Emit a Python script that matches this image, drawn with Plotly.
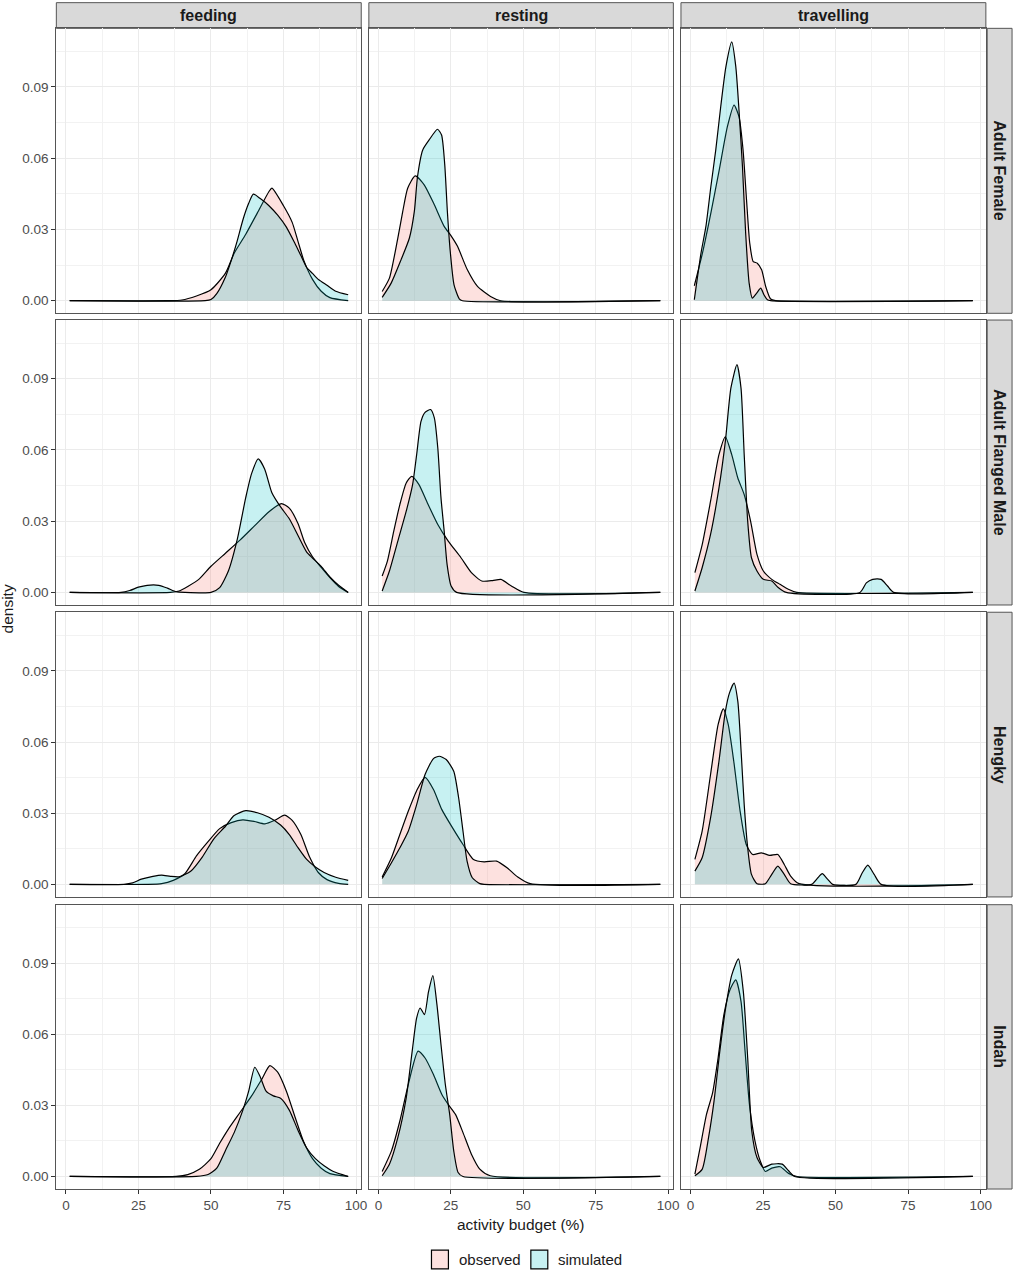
import plotly.graph_objects as go
from plotly.subplots import make_subplots

activities = ['feeding', 'resting', 'travelling']
individuals = ['Adult Female', 'Adult Flanged Male', 'Hengky', 'Indah']
groups = ['observed', 'simulated']
x_ticks = [0, 25, 50, 75, 100]
y_ticks = [0.00, 0.03, 0.06, 0.09]

# density curves (x = activity budget %, y = density)

# --- Adult Female ---
female_feeding_obs_x = [1.3, 35, 40, 45, 50, 55, 58, 62, 66, 70, 71, 75, 78, 80, 82, 85, 88, 91, 97.3]
female_feeding_obs_y = [0, 0, 0.0003, 0.002, 0.0046, 0.0116, 0.020, 0.028, 0.037, 0.046, 0.0474, 0.040, 0.033, 0.025, 0.017, 0.009, 0.004, 0.0013, 0]
female_feeding_sim_x = [1.3, 48, 50, 52, 55, 57, 59, 61, 63, 64.6, 67, 70, 73, 76, 79, 81, 83, 85, 87, 90, 93, 97.3]
female_feeding_sim_y = [0, 0, 0.0005, 0.003, 0.010, 0.017, 0.025, 0.034, 0.041, 0.0449, 0.043, 0.040, 0.036, 0.031, 0.024, 0.019, 0.014, 0.0115, 0.009, 0.0065, 0.004, 0.0025]

female_resting_obs_x = [1.3, 3.8, 6.7, 8.4, 10.1, 12.7, 15.8, 19.3, 22.7, 25.2, 27.3, 30.7, 34.2, 38.7, 42.2, 97.3]
female_resting_obs_y = [0.0039, 0.0095, 0.0264, 0.0376, 0.0474, 0.0526, 0.0488, 0.0404, 0.0313, 0.0271, 0.0229, 0.0130, 0.0060, 0.0018, 0, 0]
female_resting_sim_x = [1.3, 4.4, 7.8, 10.7, 12.4, 13.5, 15.3, 17.5, 20.4, 21.8, 22.9, 23.8, 24.8, 26.1, 27.9, 29, 97.3]
female_resting_sim_y = [0.0014, 0.0074, 0.0172, 0.0264, 0.0376, 0.0523, 0.0635, 0.0677, 0.0722, 0.0698, 0.0572, 0.0376, 0.0207, 0.0067, 0.0008, 0, 0]

female_travelling_obs_x = [1.3, 4.1, 7.0, 9.9, 12.7, 15.0, 16.7, 18.1, 19.3, 20.4, 21.6, 23.0, 24.5, 25.9, 27.6, 29.3, 97.3]
female_travelling_obs_y = [0.0063, 0.020, 0.0369, 0.0551, 0.0733, 0.0824, 0.0775, 0.0635, 0.0425, 0.0243, 0.0165, 0.0158, 0.0130, 0.0060, 0.0007, 0, 0]
female_travelling_sim_x = [1.3, 3.6, 5.3, 7.0, 8.7, 10.4, 12.2, 14.2, 15.6, 16.7, 17.9, 19.0, 20.2, 21.3, 22.8, 24.2, 25.3, 26.5, 27.6, 97.3]
female_travelling_sim_y = [0.0004, 0.020, 0.0313, 0.048, 0.0635, 0.0817, 0.0986, 0.109, 0.0986, 0.0803, 0.0565, 0.0285, 0.0074, 0.0011, 0.0032, 0.0053, 0.0025, 0.0004, 0, 0]

# --- Adult Flanged Male ---
male_feeding_obs_x = [1.3, 36, 39, 42, 46, 50, 55, 60, 65, 70, 74.3, 77, 80, 82.3, 85, 88, 91, 94, 97.3]
male_feeding_obs_y = [0, 0, 0.0006, 0.0025, 0.0057, 0.011, 0.0165, 0.022, 0.028, 0.034, 0.0374, 0.0355, 0.029, 0.021, 0.015, 0.0105, 0.0062, 0.0025, 0]
male_feeding_sim_x = [1.3, 19, 22, 25, 28, 32, 35, 38, 41, 50, 53, 56, 59, 62, 64, 66.3, 68.5, 71, 74, 77, 80, 83, 85, 88, 91, 94, 97.3]
male_feeding_sim_y = [0, 0, 0.0008, 0.0022, 0.003, 0.003, 0.0018, 0.0003, 0, 0, 0.002, 0.009, 0.022, 0.040, 0.050, 0.0562, 0.052, 0.042, 0.036, 0.031, 0.024, 0.017, 0.0145, 0.011, 0.0065, 0.003, 0]

male_resting_obs_x = [1.3, 3.1, 5.3, 7.4, 9.6, 11.5, 14.0, 16.9, 20.5, 24.1, 28.5, 32.1, 35.7, 39.4, 42.3, 45.9, 50.2, 97.3]
male_resting_obs_y = [0.0069, 0.0132, 0.0258, 0.037, 0.0461, 0.0489, 0.0454, 0.0377, 0.0286, 0.0216, 0.0146, 0.0083, 0.0048, 0.005, 0.0055, 0.0027, 0, 0]
male_resting_sim_x = [1.3, 3.8, 6.7, 9.6, 11.8, 13.2, 14.7, 16.1, 18.0, 19.3, 20.5, 21.6, 22.7, 23.7, 25.1, 27.0, 97.3]
male_resting_sim_y = [0.0006, 0.009, 0.0216, 0.0342, 0.0454, 0.058, 0.072, 0.0758, 0.077, 0.0735, 0.0608, 0.0398, 0.0258, 0.0118, 0.0027, 0, 0]

male_travelling_obs_x = [1.5, 4.0, 6.9, 9.8, 12.0, 14.2, 16.3, 18.5, 20.7, 22.9, 25.1, 28.0, 30.8, 33.7, 36.6, 97.3]
male_travelling_obs_y = [0.0083, 0.020, 0.0384, 0.058, 0.0655, 0.058, 0.0482, 0.0412, 0.030, 0.016, 0.009, 0.0055, 0.0034, 0.0013, 0, 0]
male_travelling_sim_x = [1.5, 4.0, 6.9, 9.8, 12.0, 13.9, 16.0, 17.4, 18.5, 19.7, 21.0, 22.9, 25.1, 28.0, 30.1, 33.0, 58.4, 60.6, 62.8, 65.7, 67.9, 70.0, 97.3]
male_travelling_sim_y = [0.0006, 0.0104, 0.0244, 0.044, 0.0636, 0.086, 0.0959, 0.086, 0.058, 0.030, 0.0146, 0.009, 0.0055, 0.0048, 0.0022, 0, 0, 0.004, 0.0055, 0.0055, 0.0027, 0, 0]

# --- Hengky ---
hengky_feeding_obs_x = [1.3, 28, 33, 37, 41, 45, 49, 53, 57, 61, 65, 68.6, 72, 75.4, 78, 81, 84, 87, 90, 94, 97.3]
hengky_feeding_obs_y = [0, 0, 0.0003, 0.0017, 0.0045, 0.012, 0.018, 0.0235, 0.026, 0.0272, 0.0265, 0.0255, 0.027, 0.0292, 0.027, 0.021, 0.0115, 0.005, 0.002, 0.0004, 0]
hengky_feeding_sim_x = [1.3, 20, 23, 26, 30, 33, 36, 39, 43, 47, 51, 55, 58, 62, 66, 70, 74, 77, 80, 83, 86, 89, 93, 97.3]
hengky_feeding_sim_y = [0, 0, 0.0006, 0.0022, 0.0034, 0.0039, 0.0034, 0.0032, 0.0055, 0.0115, 0.0192, 0.0245, 0.029, 0.0311, 0.0302, 0.0283, 0.025, 0.021, 0.0155, 0.0105, 0.0073, 0.005, 0.003, 0.0017]

hengky_resting_obs_x = [1.3, 4.5, 7.4, 10.3, 13.2, 16.1, 19.0, 21.9, 25.6, 29.2, 32.8, 36.5, 40.8, 44.4, 48.1, 52.4, 97.3]
hengky_resting_obs_y = [0.0031, 0.0112, 0.021, 0.0308, 0.0395, 0.0451, 0.040, 0.0315, 0.0238, 0.0168, 0.0105, 0.0095, 0.0098, 0.007, 0.0031, 0.0003, 0]
hengky_resting_sim_x = [1.3, 4.5, 7.4, 10.3, 13.2, 16.1, 19.0, 21.0, 23.4, 26.0, 27.7, 29.2, 30.6, 32.4, 35.0, 36.5, 97.3]
hengky_resting_sim_y = [0.0025, 0.0091, 0.0154, 0.0224, 0.0336, 0.0463, 0.053, 0.054, 0.0526, 0.0477, 0.0364, 0.0224, 0.0098, 0.0028, 0.0003, 0, 0]

hengky_travelling_obs_x = [1.5, 4.0, 6.9, 9.5, 11.3, 13.0, 14.9, 17.1, 19.2, 21.4, 24.4, 27.3, 30.1, 32.3, 34.5, 37.4, 97.3]
hengky_travelling_obs_y = [0.0105, 0.0224, 0.0463, 0.0673, 0.074, 0.0673, 0.0519, 0.0308, 0.0168, 0.0126, 0.0133, 0.0122, 0.0126, 0.0084, 0.0035, 0.0003, 0]
hengky_travelling_sim_x = [1.5, 4.0, 6.9, 9.8, 12.0, 13.4, 15.0, 16.3, 17.5, 18.5, 19.7, 21.0, 22.9, 25.8, 28.0, 30.1, 32.3, 34.5, 41.7, 43.9, 45.4, 47.3, 49.0, 57.0, 59.2, 61.1, 63.3, 65.7, 97.3]
hengky_travelling_sim_y = [0.0056, 0.0112, 0.028, 0.0519, 0.0729, 0.0806, 0.0848, 0.0771, 0.0547, 0.0336, 0.0154, 0.0042, 0.0003, 0.0003, 0.0042, 0.0077, 0.0042, 0.0003, 0, 0.0028, 0.0045, 0.0021, 0, 0, 0.0049, 0.0081, 0.0042, 0, 0]

# --- Indah ---
indah_feeding_obs_x = [1.3, 38, 42, 46, 50, 53, 56, 60, 64, 67.5, 70.3, 73, 76, 79, 82, 85, 88, 91, 97.3]
indah_feeding_obs_y = [0, 0, 0.0008, 0.003, 0.0075, 0.014, 0.020, 0.027, 0.034, 0.041, 0.0468, 0.044, 0.036, 0.025, 0.0145, 0.0075, 0.0035, 0.0012, 0]
indah_feeding_sim_x = [1.3, 45, 49, 52, 55, 58, 61, 63, 65.1, 67, 69, 71.5, 74, 77, 80, 83, 86, 89, 92, 97.3]
indah_feeding_sim_y = [0, 0, 0.0008, 0.0035, 0.011, 0.0185, 0.028, 0.036, 0.0461, 0.042, 0.036, 0.034, 0.033, 0.028, 0.0195, 0.012, 0.0075, 0.0045, 0.0022, 0]

indah_resting_obs_x = [1.3, 4.5, 7.4, 10.3, 13.7, 16.1, 19.0, 21.9, 24.1, 26.6, 29.2, 32.1, 35.0, 38.6, 97.3]
indah_resting_obs_y = [0.0021, 0.0108, 0.0234, 0.0388, 0.0529, 0.050, 0.043, 0.0346, 0.0304, 0.0262, 0.0185, 0.0094, 0.0031, 0.0003, 0]
indah_resting_sim_x = [1.3, 3.8, 6.7, 9.6, 11.8, 13.2, 14.4, 15.9, 17.3, 18.8, 20.2, 21.6, 23.1, 24.6, 26.0, 27.5, 29.2, 97.3]
indah_resting_sim_y = [0.0003, 0.0052, 0.0164, 0.0332, 0.0543, 0.0669, 0.0711, 0.0683, 0.078, 0.0848, 0.0725, 0.0557, 0.0388, 0.0262, 0.0108, 0.0017, 0, 0]

indah_travelling_obs_x = [1.5, 3.3, 5.5, 7.6, 9.5, 11.5, 13.6, 15.6, 17.4, 18.8, 20.3, 22.2, 24.0, 25.8, 28.0, 30.9, 33.8, 36.7, 97.3]
indah_travelling_obs_y = [0.001, 0.0122, 0.0262, 0.0353, 0.050, 0.0683, 0.0788, 0.083, 0.0739, 0.0529, 0.0304, 0.015, 0.0066, 0.0021, 0.0035, 0.0041, 0.0013, 0, 0]
indah_travelling_sim_x = [1.5, 4.0, 6.2, 8.1, 10.1, 12.1, 14.2, 16.5, 18.2, 19.7, 21.1, 22.9, 25.1, 28.0, 31.6, 33.8, 35.9, 97.3]
indah_travelling_sim_y = [0.0003, 0.003, 0.0164, 0.0318, 0.0529, 0.0711, 0.085, 0.0918, 0.078, 0.050, 0.0192, 0.008, 0.0038, 0.0052, 0.0052, 0.0024, 0, 0]

curves = {
    ('Adult Female', 'feeding'): [(female_feeding_obs_x, female_feeding_obs_y), (female_feeding_sim_x, female_feeding_sim_y)],
    ('Adult Female', 'resting'): [(female_resting_obs_x, female_resting_obs_y), (female_resting_sim_x, female_resting_sim_y)],
    ('Adult Female', 'travelling'): [(female_travelling_obs_x, female_travelling_obs_y), (female_travelling_sim_x, female_travelling_sim_y)],
    ('Adult Flanged Male', 'feeding'): [(male_feeding_obs_x, male_feeding_obs_y), (male_feeding_sim_x, male_feeding_sim_y)],
    ('Adult Flanged Male', 'resting'): [(male_resting_obs_x, male_resting_obs_y), (male_resting_sim_x, male_resting_sim_y)],
    ('Adult Flanged Male', 'travelling'): [(male_travelling_obs_x, male_travelling_obs_y), (male_travelling_sim_x, male_travelling_sim_y)],
    ('Hengky', 'feeding'): [(hengky_feeding_obs_x, hengky_feeding_obs_y), (hengky_feeding_sim_x, hengky_feeding_sim_y)],
    ('Hengky', 'resting'): [(hengky_resting_obs_x, hengky_resting_obs_y), (hengky_resting_sim_x, hengky_resting_sim_y)],
    ('Hengky', 'travelling'): [(hengky_travelling_obs_x, hengky_travelling_obs_y), (hengky_travelling_sim_x, hengky_travelling_sim_y)],
    ('Indah', 'feeding'): [(indah_feeding_obs_x, indah_feeding_obs_y), (indah_feeding_sim_x, indah_feeding_sim_y)],
    ('Indah', 'resting'): [(indah_resting_obs_x, indah_resting_obs_y), (indah_resting_sim_x, indah_resting_sim_y)],
    ('Indah', 'travelling'): [(indah_travelling_obs_x, indah_travelling_obs_y), (indah_travelling_sim_x, indah_travelling_sim_y)],
}

fill_cols = {'observed': 'rgba(248,118,109,0.22)', 'simulated': 'rgba(0,191,196,0.22)'}

# panel positions (paper fractions, margins are zero)
x_domains = [[0.0555, 0.3559], [0.3634, 0.6634], [0.6709, 0.9713]]
y_domains = [[0.7535, 0.9777], [0.5240, 0.7482], [0.2943, 0.5183], [0.0645, 0.2882]]

fig = make_subplots(rows=4, cols=3)

for r, ind in enumerate(individuals):
    for c, act in enumerate(activities):
        for name, (xs, ys) in zip(groups, curves[(ind, act)]):
            fig.add_trace(go.Scatter(x=xs, y=ys, mode='lines', fill='tozeroy',
                                     fillcolor=fill_cols[name], name=name,
                                     legendgroup=name, showlegend=False,
                                     line=dict(color='black', width=1.2, shape='spline', smoothing=0.6),
                                     hoverinfo='skip'),
                          row=r + 1, col=c + 1)

        idx = r * 3 + c + 1
        xa = 'xaxis' if idx == 1 else 'xaxis%d' % idx
        ya = 'yaxis' if idx == 1 else 'yaxis%d' % idx
        last_row = (r == 3)
        first_col = (c == 0)
        fig.update_layout({
            xa: dict(domain=x_domains[c], range=[-3.3, 101.8], tickvals=x_ticks,
                     showticklabels=last_row, ticks='outside' if last_row else '',
                     ticklen=4, tickcolor='#333333',
                     showgrid=True, gridcolor='#EBEBEB', gridwidth=1.1,
                     minor=dict(tickvals=[12.5, 37.5, 62.5, 87.5], showgrid=True,
                                gridcolor='#F2F2F2', gridwidth=0.6),
                     showline=True, mirror=True, linecolor='#555555', linewidth=1,
                     zeroline=False, tickfont=dict(size=13.5, color='#4D4D4D')),
            ya: dict(domain=y_domains[r], range=[-0.0053, 0.1147], tickvals=y_ticks,
                     tickformat='.2f', showticklabels=first_col,
                     ticks='outside' if first_col else '', ticklen=4, tickcolor='#333333',
                     showgrid=True, gridcolor='#EBEBEB', gridwidth=1.1,
                     minor=dict(tickvals=[0.015, 0.045, 0.075, 0.105], showgrid=True,
                                gridcolor='#F2F2F2', gridwidth=0.6),
                     showline=True, mirror=True, linecolor='#555555', linewidth=1,
                     zeroline=False, tickfont=dict(size=13.5, color='#4D4D4D')),
        })

shapes = []
annotations = []
for c, act in enumerate(activities):
    shapes.append(dict(type='rect', xref='paper', yref='paper',
                       x0=x_domains[c][0], x1=x_domains[c][1], y0=0.9777, y1=0.9979,
                       fillcolor='#D9D9D9', line=dict(color='#555555', width=1), layer='below'))
    annotations.append(dict(text=act, xref='paper', yref='paper',
                            x=(x_domains[c][0] + x_domains[c][1]) / 2, y=0.9878,
                            showarrow=False, xanchor='center', yanchor='middle',
                            font=dict(size=16, color='#1A1A1A', weight='bold')))
for r, ind in enumerate(individuals):
    shapes.append(dict(type='rect', xref='paper', yref='paper',
                       x0=0.9726, x1=0.9971, y0=y_domains[r][0], y1=y_domains[r][1],
                       fillcolor='#D9D9D9', line=dict(color='#555555', width=1), layer='below'))
    annotations.append(dict(text=ind, xref='paper', yref='paper',
                            x=0.98485, y=(y_domains[r][0] + y_domains[r][1]) / 2,
                            showarrow=False, textangle=90, xanchor='center', yanchor='middle',
                            font=dict(size=16, color='#1A1A1A', weight='bold')))

annotations.append(dict(text='activity budget (%)', xref='paper', yref='paper',
                        x=0.5132, y=0.0362, showarrow=False, xanchor='center', yanchor='middle',
                        font=dict(size=15.5, color='#1A1A1A')))
annotations.append(dict(text='density', xref='paper', yref='paper',
                        x=0.0078, y=0.5212, showarrow=False, textangle=-90,
                        xanchor='center', yanchor='middle',
                        font=dict(size=15.5, color='#1A1A1A')))

# legend keys drawn like ggplot's boxed keys
key_x = [[0.4251, 0.4418], [0.5230, 0.5397]]
for (x0, x1), name in zip(key_x, groups):
    shapes.append(dict(type='rect', xref='paper', yref='paper', x0=x0, x1=x1,
                       y0=0.0016, y1=0.0164, fillcolor=fill_cols[name],
                       line=dict(color='black', width=1.2)))
    annotations.append(dict(text=name, xref='paper', yref='paper', x=x1 + 0.0082, y=0.0092,
                            showarrow=False, xanchor='left', yanchor='middle',
                            font=dict(size=15, color='#1A1A1A')))

fig.update_layout(
    width=1021, height=1271,
    margin=dict(l=0, r=0, t=0, b=0),
    plot_bgcolor='white', paper_bgcolor='white',
    font=dict(family='Liberation Sans, Arial, sans-serif', size=13, color='#1A1A1A'),
    shapes=shapes, annotations=annotations,
    showlegend=False,
)

fig.write_html("out.html", config={'displayModeBar': False},
               post_script="document.body.style.margin = '0px';")
